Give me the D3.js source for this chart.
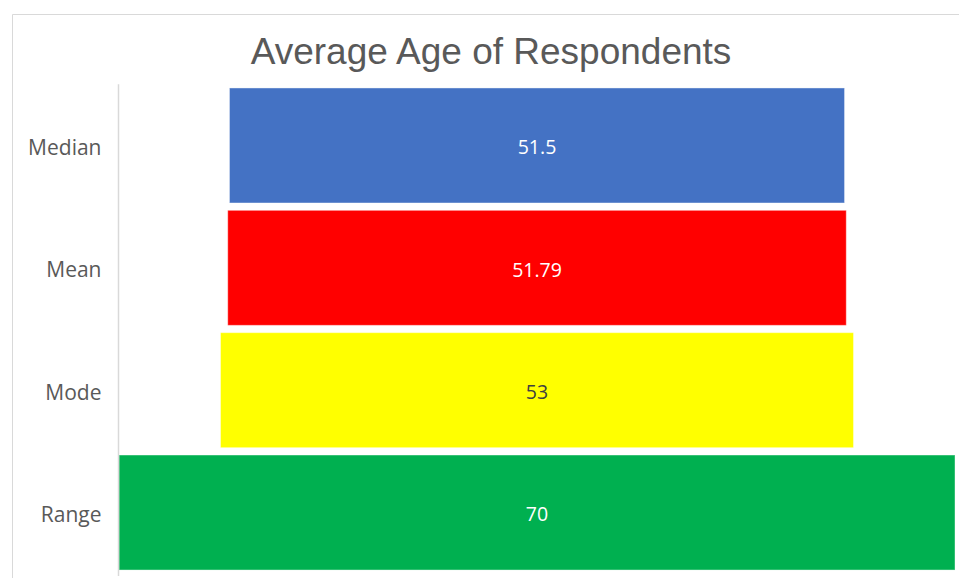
<!DOCTYPE html>
<html>
<head>
<meta charset="utf-8">
<script src="https://cdn.jsdelivr.net/npm/d3@7"></script>
<style>
  body { margin: 0; background: #fff; }
  svg { display: block; }
</style>
</head>
<body>
<div id="chart"></div>
<script>
// data
const categories = ["Median", "Mean", "Mode", "Range"];
const values = [51.5, 51.79, 53, 70];
const valueLabels = ["51.5", "51.79", "53", "70"];
const colors = ["#4472C4", "#FF0000", "#FFFF00", "#00B050"];
const labelColors = ["#ffffff", "#ffffff", "#404040", "#ffffff"];

const width = 959,
  height = 578;

const plot = { left: 119, right: 955, top: 84.3, bottom: 573.7 };
const center = (plot.left + plot.right) / 2;

const svg = d3.select("#chart")
  .append("svg")
  .attr("width", width)
  .attr("height", height);

// chart border (only top and left visible in the crop)
svg.append("path")
  .attr("d", `M12.5,${height} V14.5 H${width}`)
  .attr("fill", "none")
  .attr("stroke", "#d9d9d9")
  .attr("stroke-width", 1);

// width scale: full plot width is the largest value
const x = d3.scaleLinear()
  .domain([0, d3.max(values)])
  .range([0, plot.right - plot.left]);

const y = d3.scaleBand()
  .domain(categories)
  .range([plot.top, plot.bottom])
  .paddingInner(0.06)
  .paddingOuter(0.03);

// title
svg.append("text")
  .attr("x", 491)
  .attr("y", 64)
  .attr("text-anchor", "middle")
  .style("font-family", "'Liberation Sans', Arial, sans-serif")
  .style("font-size", "37px")
  .style("fill", "#595959")
  .text("Average Age of Respondents");

// funnel bars
svg.selectAll("rect.bar")
  .data(categories)
  .join("rect")
  .attr("class", "bar")
  .attr("x", (d, i) => center - x(values[i]) / 2)
  .attr("y", d => y(d))
  .attr("width", (d, i) => x(values[i]))
  .attr("height", y.bandwidth())
  .attr("fill", (d, i) => colors[i])
  .attr("stroke", "#ffffff")
  .attr("stroke-opacity", 0.4)
  .attr("stroke-width", 1);

// value labels
svg.selectAll("text.val")
  .data(categories)
  .join("text")
  .attr("class", "val")
  .attr("x", center)
  .attr("y", d => y(d) + y.bandwidth() / 2 + 2)
  .attr("dy", "0.35em")
  .attr("text-anchor", "middle")
  .style("font-family", "'Open Sans', 'Liberation Sans', sans-serif")
  .style("font-size", "19.5px")
  .style("fill", (d, i) => labelColors[i])
  .text((d, i) => valueLabels[i]);

// category axis
const axis = svg.append("g")
  .attr("transform", `translate(${plot.left - 0.5},0)`)
  .call(d3.axisLeft(y).tickSize(0).tickPadding(17));

axis.select(".domain")
  .attr("d", `M0,${plot.top} V${height - 2}`)
  .attr("stroke", "#d9d9d9")
  .attr("stroke-width", 1.5);

axis.selectAll(".tick text")
  .attr("dy", "0.45em")
  .style("font-family", "'Open Sans', 'Liberation Sans', sans-serif")
  .style("font-size", "21px")
  .style("fill", "#595959");
</script>
</body>
</html>
